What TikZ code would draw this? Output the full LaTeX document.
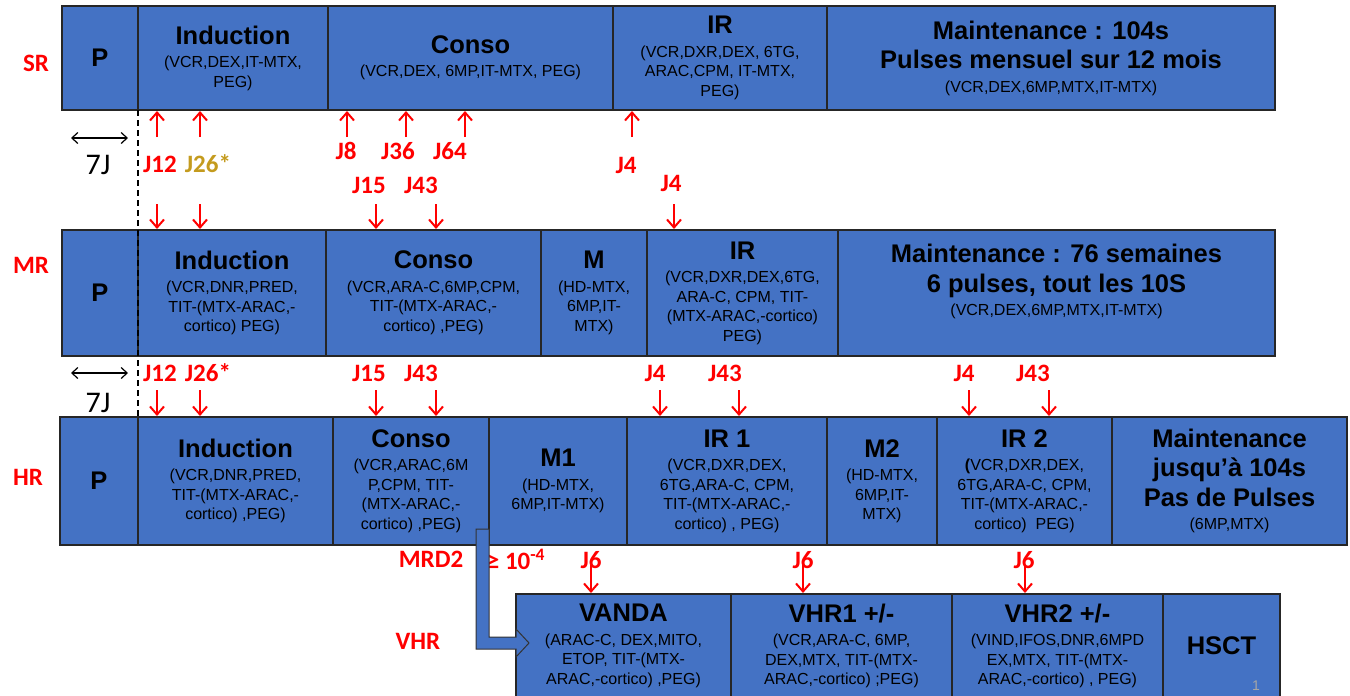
\documentclass[tikz,border=0pt]{standalone}
\usepackage{fontspec}
\setmainfont{Liberation Sans}
\newfontfamily\calfont{Carlito}
\usetikzlibrary{arrows.meta,positioning,calc}
\definecolor{cellblue}{RGB}{68,114,196}
\definecolor{jred}{RGB}{255,0,0}
\definecolor{jgold}{RGB}{196,155,30}
\newcommand\ttl[1]{{\fontsize{25.5}{29}\selectfont\bfseries #1}}
\newcommand\cellfont{\fontsize{16}{19.5}\selectfont\lineskiplimit=-50pt\relax}

\begin{document}
\begin{tikzpicture}[x=1pt,y=-1pt,node distance=0pt,
	cell/.style={draw=black!85,line width=1.6pt,fill=cellblue,inner sep=0pt,outer sep=0pt,align=center,font=\cellfont},
	jlbl/.style={text=jred,font=\calfont\bfseries\fontsize{25}{28}\selectfont},
	rowlbl/.style={text=jred,font=\calfont\bfseries\fontsize{25}{28}\selectfont},
	sevenj/.style={font=\calfont\fontsize{30}{32}\selectfont},
	jarrow/.style={draw=jred,line width=2pt,-{Straight Barb[length=8pt,width=14pt]},shorten >=1pt},
	dbl/.style={line width=1.2pt,{Straight Barb[length=6pt,width=11pt]}-{Straight Barb[length=6pt,width=11pt]}},
	]
	\useasboundingbox (0,0) rectangle (1350,696);

	\begin{scope}[every node/.append style={minimum height=104pt}]
		\node[cell,minimum width=76pt,anchor=north west] (srP) at (62,6) {\ttl{P}};
		\node[cell,minimum width=190pt,right=of srP] (srInd) {\ttl{Induction}\\[4pt](VCR,DEX,IT-MTX,\\PEG)};
		\node[cell,minimum width=285pt,right=of srInd] (srCon) {\ttl{Conso}\\[4pt](VCR,DEX, 6MP,IT-MTX, PEG)};
		\node[cell,minimum width=214pt,right=of srCon] (srIR) {\ttl{IR}\\[4pt](VCR,DXR,DEX, 6TG,\\ARAC,CPM, IT-MTX,\\PEG)};
		\node[cell,minimum width=448pt,right=of srIR] (srMnt) {\ttl{Maintenance : 104s}\\[10pt]\ttl{Pulses mensuel sur 12 mois}\\[4pt](VCR,DEX,6MP,MTX,IT-MTX)};
	\end{scope}

	\begin{scope}[every node/.append style={minimum height=126pt}]
		\node[cell,minimum width=76pt,anchor=north west] (mrP) at (62,230) {\ttl{P}};
		\node[cell,minimum width=188pt,right=of mrP] (mrInd) {\ttl{Induction}\\[4pt](VCR,DNR,PRED,\\TIT-(MTX-ARAC,-\\cortico) PEG)};
		\node[cell,minimum width=215pt,right=of mrInd] (mrCon) {\ttl{Conso}\\[4pt](VCR,ARA-C,6MP,CPM,\\TIT-(MTX-ARAC,-\\cortico) ,PEG)};
		\node[cell,minimum width=106pt,right=of mrCon] (mrM) {\ttl{M}\\[4pt](HD-MTX,\\6MP,IT-\\MTX)};
		\node[cell,minimum width=191pt,right=of mrM] (mrIR) {\ttl{IR}\\[4pt](VCR,DXR,DEX,6TG,\\ARA-C, CPM, TIT-\\(MTX-ARAC,-cortico)\\PEG)};
		\node[cell,minimum width=437pt,right=of mrIR] (mrMnt) {\ttl{Maintenance : 76 semaines}\\[10pt]\ttl{6 pulses, tout les 10S}\\[4pt](VCR,DEX,6MP,MTX,IT-MTX)\\[6.5pt]\mbox{}};
	\end{scope}

	\begin{scope}[every node/.append style={minimum height=128pt}]
		\node[cell,minimum width=78pt,anchor=north west] (hrP) at (60,417) {\ttl{P}};
		\node[cell,minimum width=195pt,right=of hrP] (hrInd) {\ttl{Induction}\\[4pt](VCR,DNR,PRED,\\TIT-(MTX-ARAC,-\\cortico) ,PEG)};
		\node[cell,minimum width=156pt,right=of hrInd] (hrCon) {\ttl{Conso}\\[4pt](VCR,ARAC,6M\\P,CPM, TIT-\\(MTX-ARAC,-\\cortico) ,PEG)};
		\node[cell,minimum width=138pt,right=of hrCon] (hrMa) {\ttl{M1}\\[4pt](HD-MTX,\\6MP,IT-MTX)};
		\node[cell,minimum width=200pt,right=of hrMa] (hrIRa) {\ttl{IR 1}\\[4pt](VCR,DXR,DEX,\\6TG,ARA-C, CPM,\\TIT-(MTX-ARAC,-\\cortico) , PEG)};
		\node[cell,minimum width=110pt,right=of hrIRa] (hrMb) {\ttl{M2}\\[4pt](HD-MTX,\\6MP,IT-\\MTX)};
		\node[cell,minimum width=175pt,right=of hrMb] (hrIRb) {\ttl{IR 2}\\[4pt]{\bfseries(}VCR,DXR,DEX,\\6TG,ARA-C, CPM,\\TIT-(MTX-ARAC,-\\cortico)~~PEG)};
		\node[cell,minimum width=235pt,right=of hrIRb] (hrMnt) {\ttl{Maintenance}\\[10pt]\ttl{jusqu’à 104s}\\[10pt]\ttl{Pas de Pulses}\\[4pt](6MP,MTX)};
	\end{scope}

	\begin{scope}[every node/.append style={minimum height=104pt}]
		\node[cell,minimum width=215pt,anchor=north west] (vhrVanda) at (516,594) {\ttl{VANDA}\\[4pt](ARAC-C, DEX,MITO,\\ETOP, TIT-(MTX-\\ARAC,-cortico) ,PEG)};
		\node[cell,minimum width=221pt,right=of vhrVanda] (vhrOne) {\ttl{VHR1 +/-}\\[4pt](VCR,ARA-C, 6MP,\\DEX,MTX, TIT-(MTX-\\ARAC,-cortico) ;PEG)};
		\node[cell,minimum width=211pt,right=of vhrOne] (vhrTwo) {\ttl{VHR2 +/-}\\[4pt](VIND,IFOS,DNR,6MPD\\EX,MTX, TIT-(MTX-\\ARAC,-cortico) , PEG)};
		\node[cell,minimum width=117pt,right=of vhrTwo] (vhrHsct) {\ttl{HSCT}};
	\end{scope}

	\draw[line width=1.3pt,dash pattern=on 6pt off 4pt] (srP.south east) -- (hrP.north east);

	\node[rowlbl] (lblSR) at (36,63) {SR};
	\node[rowlbl] (lblMR) at (31,265) {MR};
	\node[rowlbl] (lblHR) at (28,477) {HR};
	\node[rowlbl] (lblVHR) at (418,641) {VHR};

	\coordinate (dayA1) at (71,138);
	\coordinate (dayA2) at (128,138);
	\draw[dbl] (dayA1) -- (dayA2);
	\node[sevenj] (dayA) at (98,165) {7J};
	\coordinate (dayB1) at (71,373);
	\coordinate (dayB2) at (128,373);
	\draw[dbl] (dayB1) -- (dayB2);
	\node[sevenj] (dayB) at (98,403) {7J};

	\foreach \x/\y/\t [count=\i] in {160/164/J12,346/151/J8,398/151/J36,450/151/J64,626/165/J4,
		369/185/J15,421/185/J43,671/183/J4,
		160/373/J12,208/373/J26*,369/373/J15,421/373/J43,655/373/J4,725/373/J43,964/373/J4,1033/373/J43,
		591/560/J6,803/560/J6,1024/560/J6}
		\node[jlbl] (day\i) at (\x,\y) {\t};
	\node[jlbl,text=jgold] (dayGold) at (208,164) {J26*};
	\node[jlbl] (mrd) at (431,559) {MRD2};
	\node[jlbl] (mrdVal) at (516,559) {≥ 10\textsuperscript{-4}};

	\foreach \x in {157,200,347,406,465,632}{
		\coordinate (t) at (\x,137);
		\draw[jarrow] (t) -- (t |- srP.south);
	}
	\foreach \x in {157,200,376,436,674}{
		\coordinate (t) at (\x,204);
		\draw[jarrow] (t) -- (t |- mrP.north);
	}
	\foreach \x in {157,200,376,436,660,739,969,1049}{
		\coordinate (t) at (\x,390);
		\draw[jarrow] (t) -- (t |- hrP.north);
	}
	\foreach \x in {591,803,1025}{
		\coordinate (t) at (\x,565);
		\draw[jarrow] (t) -- (t |- vhrVanda.north);
	}

	\filldraw[fill=cellblue,draw=black!80,line width=1pt]
		($(hrCon.south east)+(-13,-16)$) -- ($(hrCon.south east)+(0,-16)$)
		|- ($(vhrVanda.north west)+(0,43)$) -- ++(0,-8) -- ++(13,14) -- ++(-13,14) -- ++(0,-8)
		-| ($(hrCon.south east)+(-13,-16)$) -- cycle;

	\node[text=gray!70,font=\fontsize{14}{14}\selectfont] (pageNo) at (1256,686) {1};
\end{tikzpicture}
\end{document}
